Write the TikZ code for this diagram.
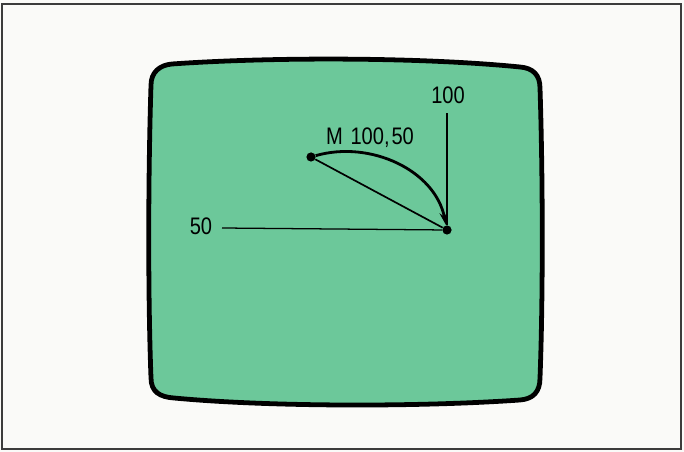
\documentclass[tikz,border=0pt]{standalone}
\usepackage{fontspec}
\setmainfont{Liberation Sans}[FakeStretch=0.84]
\usetikzlibrary{arrows.meta}
\definecolor{screengreen}{RGB}{108,200,154}
\definecolor{paper}{RGB}{250,250,248}
\definecolor{framegray}{RGB}{60,60,60}

\begin{document}
\begin{tikzpicture}[x=0.025cm,y=-0.025cm,dot/.style={circle,fill=black,minimum size=2.3mm,inner sep=0pt},axis/.style={line width=0.9pt},chord/.style={line width=1.2pt},move/.style={line width=2pt,-{Stealth[length=3.2mm,width=2mm]}},coordlabel/.style={font=\fontsize{17}{20}\selectfont,inner sep=0pt,anchor=base}]
\fill[paper] (0,0) rectangle (684,452);
\useasboundingbox (0,0) rectangle (684,452);
\draw[framegray,line width=1.1pt] (2,4) rectangle (681,449);
\draw[line width=3.4pt,fill=screengreen] (151,85) .. controls (148,180) and (148,300) .. (151,378)
  .. controls (151,392) and (160,397) .. (174,398)
  .. controls (270,407) and (420,407) .. (520,400)
  .. controls (533,399) and (540,392) .. (540,378)
  .. controls (543,300) and (543,180) .. (540,88)
  .. controls (540,75) and (533,68) .. (520,67)
  .. controls (420,57) and (270,57) .. (172,64)
  .. controls (160,65) and (151,72) .. (151,85) -- cycle;
\coordinate (xend) at (222,228);
\coordinate (ytop) at (447,113);
\node[dot] (origin) at (447,230) {};
\node[dot] (start) at (311,157) {};
\draw[axis] (xend) -- (origin);
\draw[axis] (origin) -- (ytop);
\draw[chord] (start) -- (origin);
\draw[move] (start) .. controls (370,140) and (435,170) .. (origin);
\node[coordlabel] (ylabel) at (448,104) {100};
\node[coordlabel] (xlabel) at (201,235) {50};
\node[coordlabel] (movelabel) at (370,145) {M\hspace{0.32em}100,\hspace{0.08em}50};
\end{tikzpicture}
\end{document}
